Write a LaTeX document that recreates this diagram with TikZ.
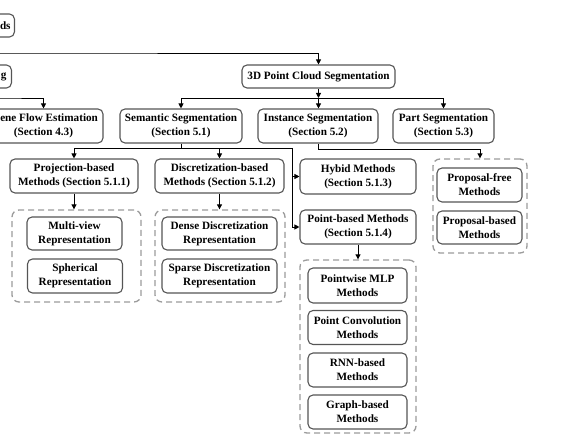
\documentclass[tikz,border=0pt]{standalone}
\usepackage{fontspec}
\setmainfont{Liberation Serif}
\usetikzlibrary{arrows.meta}
\definecolor{boxgray}{RGB}{85,85,85}
\definecolor{grpgray}{RGB}{155,155,155}
\begin{document}
\begin{tikzpicture}[x=1pt,y=-1pt,
  box/.style={draw=boxgray, line width=1.1pt, rounded corners=5pt, fill=white, align=center,
    font=\fontsize{11.2}{14}\selectfont\bfseries, inner sep=1pt},
  txt/.style={font=\fontsize{11.2}{14}\selectfont\bfseries, inner sep=0pt},
  grp/.style={draw=grpgray, line width=1.3pt, dash pattern=on 6pt off 4pt, rounded corners=7pt},
  arr/.style={line width=0.9pt, -{Triangle[length=5pt,width=5pt]}},
  ln/.style={line width=0.9pt}]
\useasboundingbox (0,0) rectangle (579,446);
\clip (0,0) rectangle (579,446);

% groups
\node[grp, minimum width=129, minimum height=92] (lg) at (76.5,256) {};
\node[grp, minimum width=130, minimum height=92] (mg) at (220,256) {};
\node[grp, minimum width=94, minimum height=94] (pg) at (480,206) {};
\node[grp, minimum width=116, minimum height=173] (bg) at (358,346.5) {};

% boxes
\node[box, anchor=east, minimum width=80, minimum height=23] (top) at (15,25.5) {};
\node[txt, anchor=east] (topt) at (10.8,25.5) {ds};
\node[box, anchor=east, minimum width=100, minimum height=23] (trk) at (12,76.5) {};
\node[txt, anchor=east] (trkt) at (6.8,76.5) {g};
\node[box, minimum width=153, minimum height=23] (seg) at (318.5,76.5) {3D Point Cloud Segmentation};
\node[box, minimum width=119, minimum height=34] (sf) at (43.5,126) {\hphantom{Sc}ene Flow Estimation\\(Section 4.3)};
\node[box, minimum width=122, minimum height=34] (sem) at (181,126) {Semantic Segmentation\\(Section 5.1)};
\node[box, minimum width=120, minimum height=34] (inst) at (318,126) {Instance Segmentation\\(Section 5.2)};
\node[box, minimum width=101, minimum height=34] (part) at (443.5,126) {Part Segmentation\\(Section 5.3)};

\node[box, minimum width=128, minimum height=34] (proj) at (74,176) {Projection-based\\Methods (Section 5.1.1)};
\node[box, minimum width=129, minimum height=34] (disc) at (219.5,176) {Discretization-based\\Methods (Section 5.1.2)};
\node[box, minimum width=116, minimum height=35] (hyb) at (358,176.5) {Hybid Methods\\(Section 5.1.3)};
\node[box, minimum width=116, minimum height=34] (pt) at (358,227) {Point-based Methods\\(Section 5.1.4)};

\node[box, minimum width=95, minimum height=33] (mv) at (74.5,233.5) {Multi-view\\Representation};
\node[box, minimum width=95, minimum height=34] (sph) at (75,276) {Spherical\\Representation};
\node[box, minimum width=115, minimum height=33] (dense) at (219.5,233.5) {Dense Discretization\\Representation};
\node[box, minimum width=115, minimum height=34] (sparse) at (219.5,276) {Sparse Discretization\\Representation};

\node[box, minimum width=85, minimum height=34] (pfree) at (479.5,185) {Proposal-free\\Methods};
\node[box, minimum width=85, minimum height=33] (pbased) at (479.5,227.5) {Proposal-based\\Methods};

\node[box, minimum width=99, minimum height=35] (mlp) at (357.5,285.5) {Pointwise MLP\\Methods};
\node[box, minimum width=99, minimum height=34] (conv) at (357.5,327.5) {Point Convolution\\Methods};
\node[box, minimum width=99, minimum height=34] (rnn) at (357.5,370) {RNN-based\\Methods};
\node[box, minimum width=99, minimum height=34] (graph) at (357.5,412) {Graph-based\\Methods};

% connectors
\coordinate (tb) at (0,53);
\draw[arr] (top.south) |- (tb) -| (seg.north);
\coordinate (gb) at (0,98);
\draw[arr] (trk.south) |- (gb) -| (sf.north);

\coordinate (b1) at (318.5,98);
\draw[arr] (seg.south) -- (b1);
\draw[arr] (b1) -| (sem.north);
\draw[arr] (b1) -- (inst.north -| b1);
\draw[arr] (b1) -| (part.north);

\coordinate (b2) at (181,148);
\coordinate (b3) at (292,148);
\draw[ln] (sem.south) -- (b2);
\draw[arr] (b2) -| (proj.north);
\draw[arr] (b2) -| (disc.north);
\draw[arr] (b2) -- (b3) |- (hyb.west);
\draw[arr] (b3) |- (pt.west);

\coordinate (b4) at (318,149);
\draw[arr] (inst.south) -- (b4) -| (pg.north);

\draw[arr] (proj.south) -- (proj.south |- lg.north);
\draw[arr] (disc.south) -- (disc.south |- mg.north);
\draw[arr] (pt.south) -- (pt.south |- bg.north);
\end{tikzpicture}
\end{document}
